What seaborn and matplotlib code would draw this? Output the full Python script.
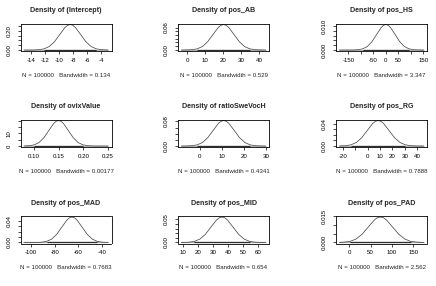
import numpy as np
import seaborn as sns
import matplotlib
matplotlib.use("Agg")
import matplotlib.pyplot as plt

# --- dados (curvas de densidade, N = 100000) ---
titulos = ["(Intercept)", "pos_AB", "pos_HS", "ovixValue", "ratioSweVocH",
           "pos_RG", "pos_MAD", "pos_MID", "pos_PAD"]
bandwidths = ["0.134", "0.529", "3.347", "0.00177", "0.4341",
              "0.7888", "0.7683", "0.654", "2.562"]

ic_x = [-15.0, -14.36, -13.62, -12.87, -12.13, -11.38, -10.64, -9.89, -9.15, -8.77, -8.4,
        -8.03, -7.66, -6.91, -6.17, -5.42, -4.68, -3.93, -3.19, -3.0]
ic_y = [0, 0.0001, 0.0006, 0.003, 0.0118, 0.0363, 0.087, 0.1625, 0.2365, 0.2597, 0.268,
        0.2597, 0.2365, 0.1625, 0.087, 0.0363, 0.0118, 0.003, 0.0006, 0]
ab_x = [-3.3, -0.38, 2.56, 5.5, 8.44, 11.38, 14.32, 17.26, 18.73, 20.2,
        21.67, 23.14, 26.08, 29.02, 31.96, 34.9, 37.84, 40.78, 43.7]
ab_y = [0, 0.0002, 0.0008, 0.003, 0.0092, 0.0221, 0.0412, 0.06, 0.0659, 0.068,
        0.0659, 0.06, 0.0412, 0.0221, 0.0092, 0.003, 0.0008, 0.0002, 0]
hs_x = [-186.5, -148.8, -130.2, -111.6, -93, -74.4, -55.8, -37.2, -18.6, -9.3, 0,
        9.3, 18.6, 37.2, 55.8, 74.4, 93, 111.6, 130.2, 148.8, 151.5]
hs_y = [0, 0, 0.00002, 0.00012, 0.00047, 0.00145, 0.00347, 0.00649, 0.00944, 0.01037, 0.0107,
        0.01037, 0.00944, 0.00649, 0.00347, 0.00145, 0.00047, 0.00012, 0.00002, 0, 0]
ovix_x = [0.080, 0.0909, 0.1008, 0.1106, 0.1204, 0.1303, 0.1401, 0.1451, 0.150,
          0.1549, 0.1599, 0.1697, 0.1796, 0.1894, 0.1993, 0.2091, 0.219, 0.2288, 0.250]
ovix_y = [0.04, 0.225, 0.891, 2.747, 6.591, 12.31, 17.91, 19.67, 20.3,
          19.67, 17.91, 12.31, 6.591, 2.747, 0.891, 0.225, 0.045, 0.007, 0]
swe_x = [-8.3, -7.9, -5.97, -3.56, -1.15, 1.26, 3.67, 6.08, 8.49, 9.7, 10.9,
         12.1, 13.31, 15.72, 18.13, 20.54, 22.95, 25.36, 27.77, 29.95]
swe_y = [0, 0, 0.0002, 0.0009, 0.0036, 0.0112, 0.027, 0.0503, 0.0733, 0.0804, 0.083,
         0.0804, 0.0733, 0.0503, 0.027, 0.0112, 0.0036, 0.0009, 0.0002, 0]
rg_x = [-22.6, -22.16, -17.78, -13.4, -9.02, -4.64, -0.26, 4.12, 6.31, 8.5,
        10.69, 12.88, 17.26, 21.64, 26.02, 30.4, 34.78, 39.16, 43.54, 45.0]
rg_y = [0, 0.0001, 0.0005, 0.002, 0.0062, 0.0148, 0.0276, 0.0402, 0.0441, 0.0455,
        0.0441, 0.0402, 0.0276, 0.0148, 0.0062, 0.002, 0.0005, 0.0001, 0, 0]
mad_x = [-106.1, -99.56, -95.29, -91.02, -86.75, -82.48, -78.21, -73.94, -69.67, -67.54, -65.4,
         -63.27, -61.13, -56.86, -52.59, -48.32, -44.05, -39.78, -35.51, -34.8]
mad_y = [0, 0, 0.0001, 0.0005, 0.0021, 0.0063, 0.0152, 0.0283, 0.0412, 0.0453, 0.0467,
         0.0453, 0.0412, 0.0283, 0.0152, 0.0063, 0.0021, 0.0005, 0.0001, 0]
mid_x = [9.2, 10.55, 14.19, 17.82, 21.46, 25.1, 28.73, 32.37, 34.18, 36,
         37.82, 39.64, 43.27, 46.9, 50.54, 54.18, 57.81, 61.45, 64.8]
mid_y = [0, 0.0001, 0.0006, 0.0024, 0.0074, 0.0179, 0.0334, 0.0485, 0.0533, 0.055,
         0.0533, 0.0485, 0.0334, 0.0179, 0.0074, 0.0024, 0.0006, 0.0001, 0]
pad_x = [-23.1, -12.5, 1.75, 16, 30.25, 44.5, 58.75, 65.88, 73,
         80.13, 87.25, 101.5, 115.75, 130, 144.25, 158.5, 172.75, 174.1]
pad_y = [0.00005, 0.0002, 0.0006, 0.002, 0.0048, 0.0089, 0.013, 0.0143, 0.0147,
         0.0143, 0.013, 0.0089, 0.0048, 0.002, 0.0006, 0.0002, 0, 0]

curvas_x = [ic_x, ab_x, hs_x, ovix_x, swe_x, rg_x, mad_x, mid_x, pad_x]
curvas_y = [ic_y, ab_y, hs_y, ovix_y, swe_y, rg_y, mad_y, mid_y, pad_y]

# ticks e rotulos (R pula os rotulos que nao cabem)
xticks = [[-14, -12, -10, -8, -6, -4], [0, 10, 20, 30, 40],
          [-150, -100, -50, 0, 50, 100, 150], [0.10, 0.15, 0.20, 0.25],
          [0, 10, 20, 30], [-20, -10, 0, 10, 20, 30, 40],
          [-100, -80, -60, -40], [10, 20, 30, 40, 50, 60], [0, 50, 100, 150]]
xlabels = [["-14", "-12", "-10", "-8", "-6", "-4"], ["0", "10", "20", "30", "40"],
           ["-150", "", "-50", "0", "50", "", "150"], ["0.10", "0.15", "0.20", "0.25"],
           ["0", "10", "20", "30"], ["-20", "", "0", "10", "20", "30", "40"],
           ["-100", "-80", "-60", "-40"], ["10", "20", "30", "40", "50", "60"],
           ["0", "50", "100", "150"]]
yticks = [[0, 0.05, 0.10, 0.15, 0.20, 0.25], [0, 0.01, 0.02, 0.03, 0.04, 0.05, 0.06],
          [0, 0.002, 0.004, 0.006, 0.008, 0.010], [0, 5, 10, 15, 20],
          [0, 0.02, 0.04, 0.06, 0.08], [0, 0.01, 0.02, 0.03, 0.04],
          [0, 0.01, 0.02, 0.03, 0.04], [0, 0.01, 0.02, 0.03, 0.04, 0.05],
          [0, 0.005, 0.010, 0.015]]
ylabels = [["0.00", "", "", "", "0.20", ""], ["0.00", "", "", "", "", "", "0.06"],
           ["0.000", "", "", "", "", "0.010"], ["0", "", "10", "", ""],
           ["0.00", "", "", "", "0.08"], ["0.00", "", "", "", "0.04"],
           ["0.00", "", "", "", "0.04"], ["0.00", "", "", "", "", "0.05"],
           ["0.000", "", "", "0.015"]]

sns.set_theme(style="ticks")
plt.rcParams['font.family'] = ['Liberation Sans', 'DejaVu Sans']

fig = plt.figure(figsize=(4.36, 2.86), dpi=100)
W, H = 436.0, 286.0
lefts = [20.5, 178, 336]
tops = [23.5, 119.5, 216]
largura, altura = 91, 27.5

for i in range(9):
    lin, col = divmod(i, 3)
    ax = fig.add_axes([lefts[col] / W, 1 - (tops[lin] + altura) / H, largura / W, altura / H])
    x = np.array(curvas_x[i])
    y = np.array(curvas_y[i])
    pico = y.max()

    # rug das observacoes (faixa fina na base)
    ax.plot([x.min(), x.max()], [0, 0], color="#b0b0b0", lw=0.9, solid_capstyle="butt")
    denso = x[y > 0.03 * pico]
    ax.plot([denso.min(), denso.max()], [0, 0], color="#303030", lw=0.9, solid_capstyle="butt")

    sns.lineplot(x=x, y=y, ax=ax, color="#4a4a4a", linewidth=0.55, estimator=None, sort=False)

    pad = 0.04 * (x.max() - x.min())
    ax.set_xlim(x.min() - pad, x.max() + pad)
    ax.set_ylim(-0.04 * pico, 1.04 * pico)

    ax.set_xticks(xticks[i])
    ax.set_xticklabels(xlabels[i])
    ax.set_yticks(yticks[i])
    ax.set_yticklabels(ylabels[i], rotation=90, va="center")
    ax.tick_params(length=2.5, width=0.5, pad=2.5, labelsize=4.4, colors="black")
    ax.tick_params(axis="y", pad=4)
    for s in ax.spines.values():
        s.set_visible(True)
        s.set_linewidth(0.6)
        s.set_color("black")

    ax.set_title(f"Density of {titulos[i]}", fontsize=5.1, fontweight="bold", pad=8)
    ax.set_xlabel(f"N = 100000   Bandwidth = {bandwidths[i]}", fontsize=4.4, labelpad=7)
    ax.set_ylabel("")

fig.savefig("out.png", dpi=100, facecolor="white")
